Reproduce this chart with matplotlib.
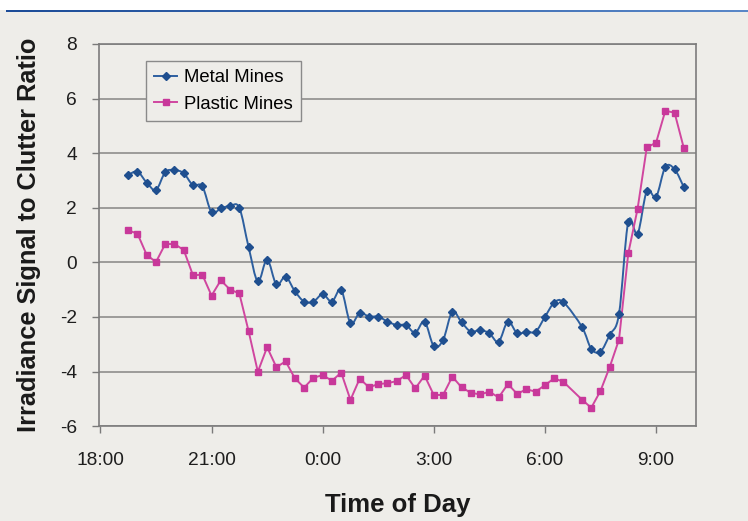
import numpy as np
import matplotlib
matplotlib.use("Agg")
import matplotlib.pyplot as plt
from matplotlib.path import Path
from matplotlib.patches import PathPatch, Rectangle
from matplotlib.lines import Line2D

# Sample times (15-minute readings, overnight; 6:45 reading absent)
times = ["18:45", "19:00", "19:15", "19:30", "19:45", "20:00", "20:15", "20:30",
         "20:45", "21:00", "21:15", "21:30", "21:45", "22:00", "22:15", "22:30",
         "22:45", "23:00", "23:15", "23:30", "23:45", "0:00", "0:15", "0:30",
         "0:45", "1:00", "1:15", "1:30", "1:45", "2:00", "2:15", "2:30",
         "2:45", "3:00", "3:15", "3:30", "3:45", "4:00", "4:15", "4:30",
         "4:45", "5:00", "5:15", "5:30", "5:45", "6:00", "6:15", "6:30",
         "7:00", "7:15", "7:30", "7:45", "8:00", "8:15", "8:30", "8:45",
         "9:00", "9:15", "9:30", "9:45"]

metal_mines = [3.20, 3.32, 2.92, 2.65, 3.30, 3.38, 3.26, 2.82,
               2.79, 1.83, 1.98, 2.06, 2.00, 0.56, -0.70, 0.10,
               -0.81, -0.53, -1.06, -1.44, -1.44, -1.17, -1.44, -1.01,
               -2.23, -1.85, -1.99, -1.99, -2.17, -2.30, -2.30, -2.58,
               -2.17, -3.07, -2.85, -1.81, -2.20, -2.54, -2.48, -2.60,
               -2.91, -2.17, -2.60, -2.54, -2.54, -2.00, -1.48, -1.46,
               -2.37, -3.17, -3.27, -2.65, -1.89, 1.49, 1.04, 2.61,
               2.40, 3.49, 3.41, 2.75]

plastic_mines = [1.17, 1.05, 0.27, 0.01, 0.67, 0.67, 0.45, -0.48,
                 -0.45, -1.22, -0.66, -1.00, -1.14, -2.52, -4.01, -3.11,
                 -3.84, -3.63, -4.25, -4.59, -4.23, -4.13, -4.34, -4.04,
                 -5.04, -4.26, -4.58, -4.46, -4.43, -4.35, -4.13, -4.62,
                 -4.15, -4.86, -4.86, -4.19, -4.58, -4.78, -4.84, -4.74,
                 -4.95, -4.46, -4.82, -4.65, -4.74, -4.50, -4.25, -4.38,
                 -5.03, -5.33, -4.71, -3.83, -2.83, 0.33, 1.95, 4.21,
                 4.38, 5.55, 5.48, 4.18]

x_tick_labels = ["18:00", "21:00", "0:00", "3:00", "6:00", "9:00"]
y_ticks = [-6, -4, -2, 0, 2, 4, 6, 8]

BG = "#eeede9"
METAL_COLOR = "#2d5f9f"
METAL_MARK = "#1f4f8f"
PLASTIC_COLOR = "#d0469f"
PLASTIC_MARK = "#c8389a"
GRID = "#8e8e8c"
plt.rcParams["font.family"] = ["Liberation Sans", "DejaVu Sans"]


def to_hours(label):
    """Clock label -> hours on a continuous evening-to-morning scale."""
    h, m = map(int, label.split(":"))
    if h < 12:
        h += 24
    return h + m / 60.0


def smoothed_path(x, y, tension=1.0 / 6.0):
    """Cubic Bezier path through every point (spreadsheet-style smoothed line)."""
    x = np.asarray(x, float)
    y = np.asarray(y, float)
    n = len(x)
    verts = [(x[0], y[0])]
    codes = [Path.MOVETO]
    for i in range(n - 1):
        p0 = np.array([x[max(i - 1, 0)], y[max(i - 1, 0)]])
        p1 = np.array([x[i], y[i]])
        p2 = np.array([x[i + 1], y[i + 1]])
        p3 = np.array([x[min(i + 2, n - 1)], y[min(i + 2, n - 1)]])
        c1 = p1 + (p2 - p0) * tension
        c2 = p2 - (p3 - p1) * tension
        verts += [tuple(c1), tuple(c2), tuple(p2)]
        codes += [Path.CURVE4] * 3
    return Path(verts, codes)


hours = [to_hours(t) for t in times]
x_ticks = [to_hours(t) for t in x_tick_labels]

W, H = 748, 521
fig = plt.figure(figsize=(W / 100, H / 100), dpi=100, facecolor=BG)

# White header strip with a blue gradient rule under it
fig.add_artist(Rectangle((0, 1 - 10 / H), 1, 10 / H, transform=fig.transFigure,
                         facecolor="white", edgecolor="none", zorder=0))
rule_ax = fig.add_axes([6 / W, 1 - 12 / H, 1 - 6 / W, 2 / H])
rule_cmap = matplotlib.colors.LinearSegmentedColormap.from_list("rule", ["#1c4c98", "#5a88c8"])
rule_ax.imshow(np.linspace(0, 1, 256)[None, :], aspect="auto", cmap=rule_cmap,
               extent=(0, 1, 0, 1))
rule_ax.set_axis_off()

left, right, top, bottom = 99.3, 695.7, 43.9, 426.1
ax = fig.add_axes([left / W, 1 - bottom / H, (right - left) / W, (bottom - top) / H])
ax.set_facecolor(BG)

ax.set_xlim(17.97, 34.07)
ax.set_ylim(-6, 8)
ax.set_xticks(x_ticks)
ax.set_xticklabels(x_tick_labels)
ax.set_yticks(y_ticks)
ax.set_yticklabels([str(v) for v in y_ticks])
ax.tick_params(axis="both", direction="out", length=5, width=1.0, color="#7a7a7a",
               labelsize=13.8, labelcolor="#1e1e1e")
ax.tick_params(axis="x", pad=14)
ax.tick_params(axis="y", pad=11)

ax.grid(axis="y", color=GRID, linewidth=1.2)
ax.set_axisbelow(True)
for s in ax.spines.values():
    s.set_color("#7c7c7c")
    s.set_linewidth(1.2)

# Metal mines: smoothed line with diamond markers
ax.add_patch(PathPatch(smoothed_path(hours, metal_mines), facecolor="none",
                       edgecolor=METAL_COLOR, linewidth=1.4, zorder=3))
ax.plot(hours, metal_mines, linestyle="none", marker="D", markersize=3.6,
        color=METAL_MARK, zorder=4)

# Plastic mines: straight segments with square markers
ax.plot(hours, plastic_mines, color=PLASTIC_COLOR, linewidth=1.4, marker="s",
        markersize=3.8, markerfacecolor=PLASTIC_MARK, markeredgecolor=PLASTIC_MARK, zorder=3)

ax.set_xlabel("Time of Day", fontsize=18.5, fontweight="bold", color="#1a1a1a", labelpad=17)
ax.set_ylabel("Irradiance Signal to Clutter Ratio", fontsize=18.3, fontweight="bold",
              color="#1a1a1a", labelpad=14)

handles = [
    Line2D([], [], color=METAL_COLOR, linewidth=1.4, marker="D", markersize=3.6,
           markerfacecolor=METAL_MARK, markeredgecolor=METAL_MARK),
    Line2D([], [], color=PLASTIC_COLOR, linewidth=1.4, marker="s", markersize=3.8,
           markerfacecolor=PLASTIC_MARK, markeredgecolor=PLASTIC_MARK),
]
leg = ax.legend(handles, ["Metal Mines", "Plastic Mines"], loc="upper left",
                bbox_to_anchor=((146 - left) / (right - left), (bottom - 61) / (bottom - top)),
                borderaxespad=0, fontsize=13.3, frameon=True, fancybox=False,
                facecolor=BG, edgecolor="#8a8a8a", framealpha=1, handlelength=1.25,
                handletextpad=0.35, borderpad=0.45, labelspacing=0.5)
leg.get_frame().set_linewidth(1.0)

fig.savefig("out.png", dpi=100, facecolor=BG)
